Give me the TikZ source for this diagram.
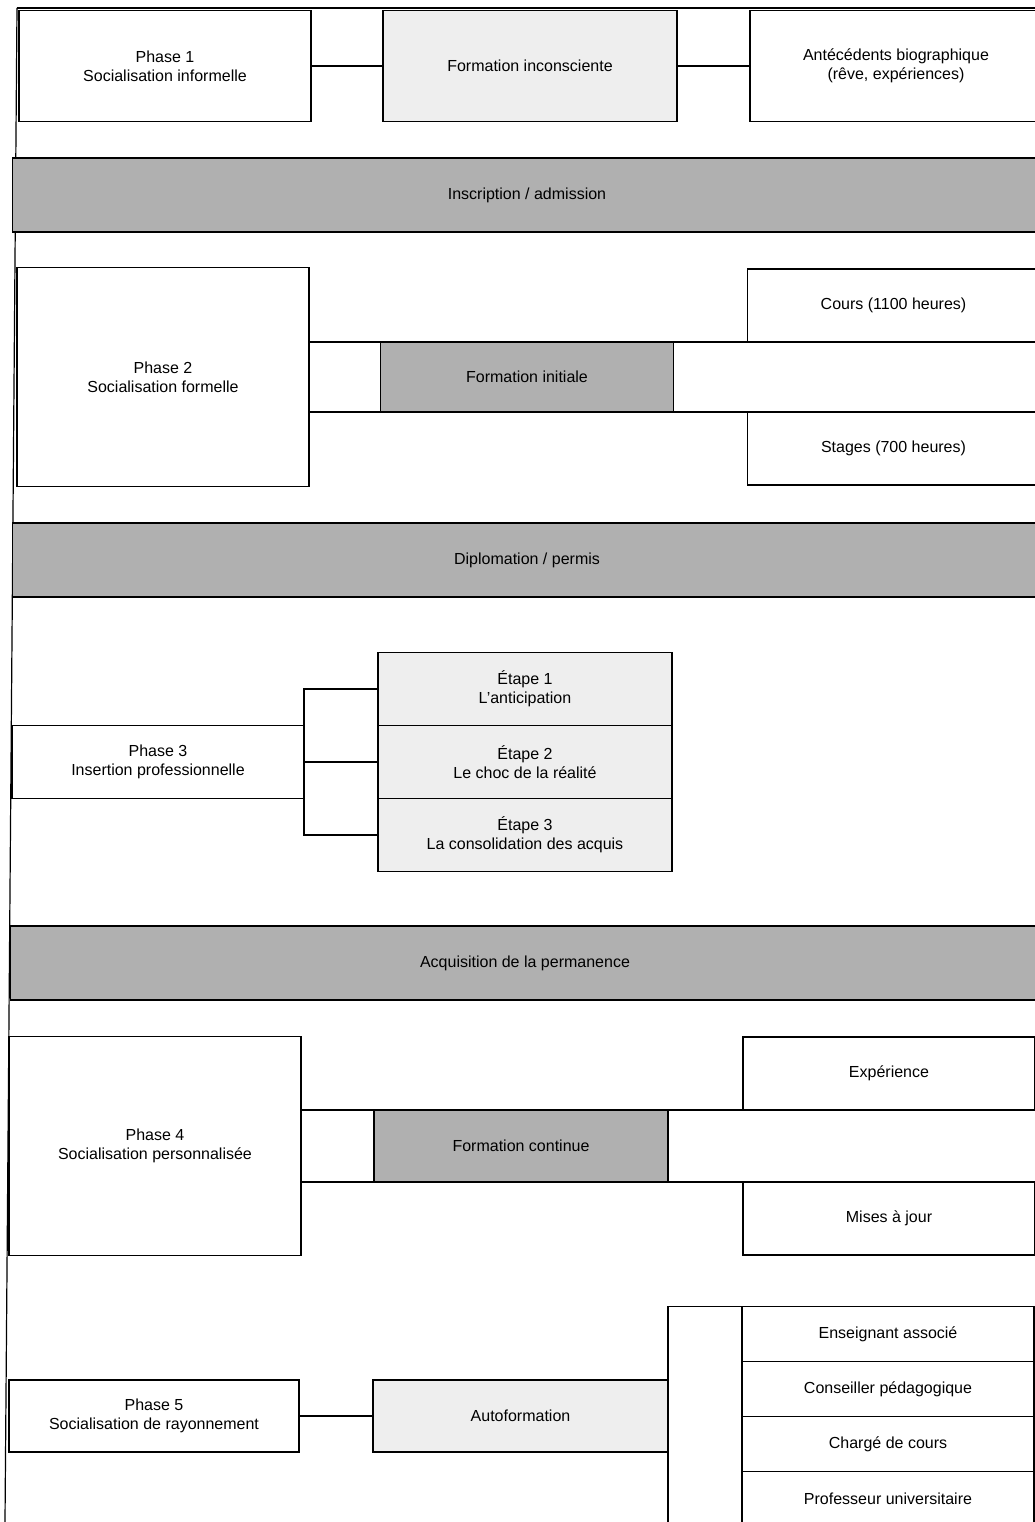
\documentclass[tikz,border=0pt]{standalone}
\usepackage{fontspec}
\setmainfont{Liberation Sans}
\usetikzlibrary{positioning}

\begin{document}
\begin{tikzpicture}[
    x=1pt, y=1pt,
    node distance=73pt and 73pt,
    every node/.style={font=\fontsize{16}{19}\selectfont},
    box/.style={
      draw, line width=1.2pt, align=center, inner sep=0pt, outer sep=0pt,
      minimum width=292pt, minimum height=73pt
    },
    pale/.style={box, fill=gray!13},
    dark/.style={box, fill=gray!62},
    band/.style={dark, minimum width=1029pt, minimum height=74pt},
    link/.style={line width=1.2pt}
  ]
  \useasboundingbox (0,0) rectangle (1035,-1522);
  \clip (0,0) rectangle (1035,-1522);
  % CADRE
  \draw[link] (17,-8) -- (1035,-8);
  \draw[link] (17,-8) -- (5,-1522);

  % PHASE 1
  \node[box, minimum height=111pt] (p1) at (165,-66) {Phase 1\\Socialisation informelle};
  \node[pale, minimum height=111pt, minimum width=294pt, right=72pt of p1] (inconsc) {Formation inconsciente};
  \node[box, minimum height=111pt, right=of inconsc] (antec) {Antécédents biographique\\(rêve, expériences)};

  \node[band] (inscr) at (527,-195) {Inscription / admission};

  % PHASE 2
  \node[box, minimum height=219pt] (p2) at (163,-377) {Phase 2\\Socialisation formelle};
  \node[dark, minimum height=70pt, minimum width=293pt] (initiale) at (527,-377) {Formation initiale};
  \node[box, above right=0pt and 74pt of initiale] (cours) {Cours (1100 heures)};
  \node[box, below right=0pt and 74pt of initiale] (stages) {Stages (700 heures)};

  \node[band] (diplom) at (527,-560) {Diplomation / permis};

  % PHASE 3
  \node[pale, minimum width=294pt] (etape1) at (525,-689) {Étape 1\\L'anticipation};
  \node[pale, minimum width=294pt, below=0pt of etape1] (etape2) {Étape 2\\Le choc de la réalité};
  \node[pale, minimum width=294pt, below=0pt of etape2] (etape3) {Étape 3\\La consolidation des acquis};
  \node[box, left=74pt of etape2] (p3) {Phase 3\\Insertion professionnelle};

  \node[band] (perman) at (525,-963) {Acquisition de la permanence};

  % PHASE 4
  \node[box, minimum height=219pt] (p4) at (155,-1146) {Phase 4\\Socialisation personnalisée};
  \node[dark, minimum height=72pt, minimum width=294pt] (continue) at (521,-1146) {Formation continue};
  \node[box, above right=0pt and 75pt of continue] (experience) {Expérience};
  \node[box, below right=0pt and 75pt of continue] (majour) {Mises à jour};

  % PHASE 5
  \node[box, minimum height=72pt, minimum width=290pt] (p5) at (154,-1416) {Phase 5\\Socialisation de rayonnement};
  \node[pale, minimum height=72pt, minimum width=295pt, right=74pt of p5] (autof) {Autoformation};
  \node[box, minimum height=55pt] (enseig) at (888,-1334) {Enseignant associé};
  \node[box, minimum height=55pt, below=0pt of enseig] (conseil) {Conseiller pédagogique};
  \node[box, minimum height=55pt, below=0pt of conseil] (charge) {Chargé de cours};
  \node[box, minimum height=55pt, below=0pt of charge] (prof) {Professeur universitaire};

  % LIENS
  \draw[link] (p1) -- (inconsc);
  \draw[link] (inconsc) -- (antec);
  \draw[link] (p2.east |- initiale.north) -- (initiale.north west);
  \draw[link] (initiale.north east) -- (cours.south west);
  \draw[link] (p2.east |- initiale.south) -- (initiale.south west);
  \draw[link] (initiale.south east) -- (stages.north west);
  \draw[link] (etape1.west) -- (etape1.west -| p3.east) -- (etape3.west -| p3.east) -- (etape3.west);
  \draw[link] (etape2.west) -- (etape2.west -| p3.east);
  \draw[link] (p4.east |- continue.north) -- (continue.north west);
  \draw[link] (continue.north east) -- (experience.south west);
  \draw[link] (p4.east |- continue.south) -- (continue.south west);
  \draw[link] (continue.south east) -- (majour.north west);
  \draw[link] (p5) -- (autof);
  \draw[link] (autof.north east) -- (autof.north east |- enseig.north) -- (enseig.north west);
  \draw[link] (autof.south east) -- (autof.south east |- prof.south);
\end{tikzpicture}
\end{document}
